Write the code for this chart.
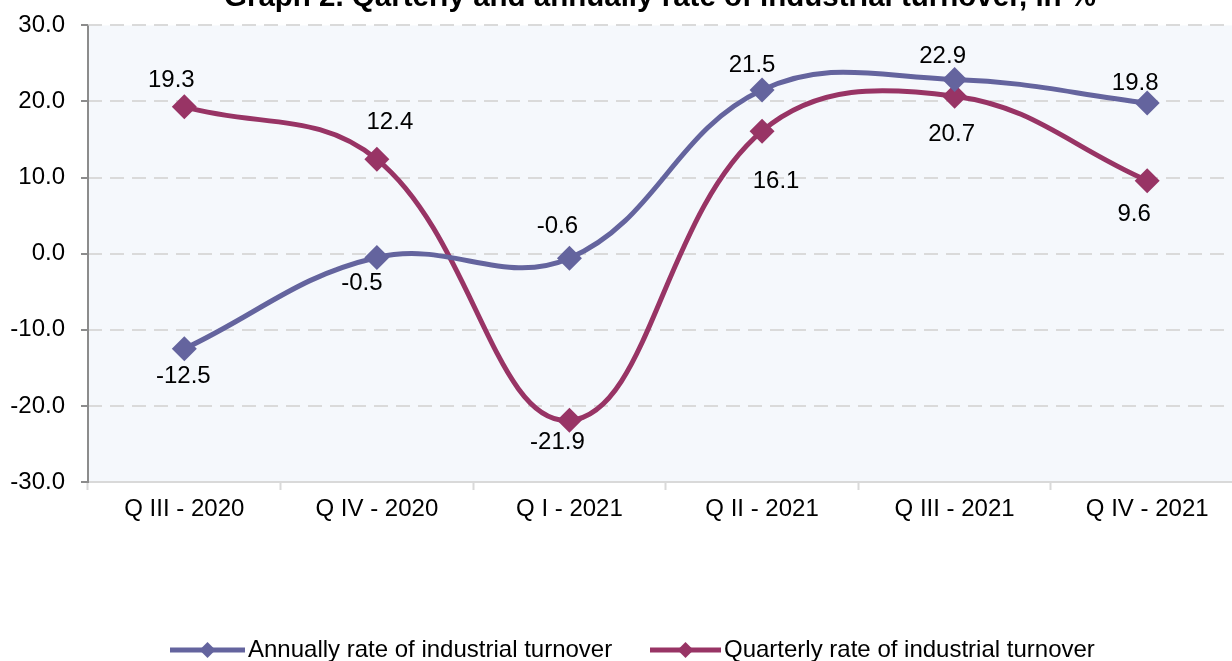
<!DOCTYPE html>
<html>
<head>
<meta charset="utf-8">
<script src="https://cdn.jsdelivr.net/npm/chart.js@4/dist/chart.umd.min.js"></script>
<style>
    html, body { margin: 0; padding: 0; background: #ffffff; overflow: hidden; }
    #wrap { position: relative; width: 1256px; height: 666px; top: -5px; }
</style>
</head>
<body>
<div id="wrap"><canvas id="lineChart" width="1256" height="666"></canvas></div>
<script>
// 横坐标
var categories = ["Q III - 2020", "Q IV - 2020", "Q I - 2021", "Q II - 2021", "Q III - 2021", "Q IV - 2021"];
// 纵坐标
var annualValues = [-12.5, -0.5, -0.6, 21.5, 22.9, 19.8];
var quarterlyValues = [19.3, 12.4, -21.9, 16.1, 20.7, 9.6];
// 刻度
var yTicks = [-30, -20, -10, 0, 10, 20, 30];

var titleText = "Graph 2. Qarterly and annually rate of industrial turnover, in %";
var annualLabel = "Annually rate of industrial turnover";
var quarterlyLabel = "Quarterly rate of industrial turnover";

var FONT = "'Liberation Sans', Arial, sans-serif";
var annualColor = "#64649e";
var quarterlyColor = "#983465";

// 数据标签偏移 [dx, dy]
var annualLabelOffsets = [[-1, 28], [-15, 26], [-12, -32], [-10, -25], [-12, -23], [-12, -20]];
var quarterlyLabelOffsets = [[-13, -26], [13, -37], [-12, 22], [14, 50], [-3, 38], [-13, 34]];

// 画布向上偏移了 5px（标题上半部分被裁掉）
var SHIFT = 5;

var Charts = window.Chart;
Charts.defaults.font.family = FONT;
Charts.defaults.color = '#000';

// 绘图区背景 + 左侧轴线
var plotBg = {
    id: 'plotBg',
    beforeDraw: function (chart) {
        var a = chart.chartArea, ctx = chart.ctx;
        ctx.save();
        ctx.fillStyle = '#f5f8fc';
        ctx.fillRect(a.left, a.top, a.right - a.left, a.bottom - a.top);
        ctx.restore();
    },
    afterDatasetsDraw: function (chart) {
        var a = chart.chartArea, ctx = chart.ctx;
        ctx.save();
        ctx.strokeStyle = '#8c8c8c';
        ctx.lineWidth = 2;
        ctx.beginPath();
        ctx.moveTo(a.left, a.top);
        ctx.lineTo(a.left, a.bottom + 1);
        ctx.stroke();
        ctx.restore();
    }
};

// 数据标签
var valueLabels = {
    id: 'valueLabels',
    afterDatasetsDraw: function (chart) {
        var ctx = chart.ctx;
        ctx.save();
        ctx.font = '24px ' + FONT;
        ctx.fillStyle = '#000';
        ctx.textAlign = 'center';
        ctx.textBaseline = 'middle';
        chart.data.datasets.forEach(function (ds, i) {
            var meta = chart.getDatasetMeta(i);
            meta.data.forEach(function (pt, j) {
                var off = ds.labelOffsets[j];
                ctx.fillText(ds.data[j].toFixed(1), pt.x + off[0], pt.y + off[1]);
            });
        });
        ctx.restore();
    }
};

// 标题（上半部分被裁掉）和图例
var titleLegend = {
    id: 'titleLegend',
    afterDraw: function (chart) {
        var ctx = chart.ctx;
        ctx.save();
        ctx.fillStyle = '#000';
        ctx.font = 'bold 29.5px ' + FONT;
        ctx.textAlign = 'center';
        ctx.textBaseline = 'alphabetic';
        ctx.fillText(titleText, 660, 6 + SHIFT);

        var items = [
            {label: annualLabel, color: annualColor, x0: 170, x1: 245},
            {label: quarterlyLabel, color: quarterlyColor, x0: 650, x1: 721}
        ];
        var y = 650 + SHIFT;
        items.forEach(function (it) {
            ctx.strokeStyle = it.color;
            ctx.lineWidth = 5;
            ctx.beginPath();
            ctx.moveTo(it.x0, y);
            ctx.lineTo(it.x1, y);
            ctx.stroke();
            var cx = (it.x0 + it.x1) / 2;
            ctx.fillStyle = it.color;
            ctx.beginPath();
            ctx.moveTo(cx, y - 8);
            ctx.lineTo(cx + 8, y);
            ctx.lineTo(cx, y + 8);
            ctx.lineTo(cx - 8, y);
            ctx.closePath();
            ctx.fill();
            ctx.fillStyle = '#000';
            ctx.font = '24px ' + FONT;
            ctx.textAlign = 'left';
            ctx.textBaseline = 'middle';
            ctx.fillText(it.label, it.x1 + 3, y);
        });
        ctx.restore();
    }
};

function seriesStyle(color) {
    return {
        borderColor: color,
        backgroundColor: color,
        borderWidth: 5,
        tension: 0.4,
        fill: false,
        pointStyle: 'rectRot',
        pointRadius: 12.5,
        pointBorderWidth: 0,
        pointBackgroundColor: color
    };
}

var lineCtx = document.getElementById('lineChart');
var lineChart = new Charts(lineCtx, {
    type: 'line',
    data: {
        labels: categories,
        datasets: [
            Object.assign({label: annualLabel, data: annualValues, labelOffsets: annualLabelOffsets}, seriesStyle(annualColor)),
            Object.assign({label: quarterlyLabel, data: quarterlyValues, labelOffsets: quarterlyLabelOffsets}, seriesStyle(quarterlyColor))
        ]
    },
    options: {
        responsive: false,
        animation: false,
        layout: {padding: {top: 19, right: 7, left: 0, bottom: 129}},
        plugins: {
            legend: {display: false},
            title: {display: false},
            tooltip: {enabled: false}
        },
        scales: {
            x: {
                offset: true,
                afterFit: function (scale) { scale.height = 50; },
                grid: {
                    offset: true,
                    drawOnChartArea: false,
                    drawTicks: true,
                    tickLength: 8,
                    tickColor: '#d9d9d9',
                    tickWidth: 2
                },
                border: {display: true, color: '#d9d9d9', width: 2},
                ticks: {font: {size: 24}, color: '#000', padding: 5, maxRotation: 0}
            },
            y: {
                min: yTicks[0],
                max: yTicks[yTicks.length - 1],
                afterFit: function (scale) { scale.width = 88; },
                afterBuildTicks: function (scale) {
                    scale.ticks = yTicks.map(function (v) { return {value: v}; });
                },
                grid: {
                    color: '#dadada',
                    lineWidth: 2,
                    drawTicks: true,
                    tickLength: 7,
                    tickColor: '#8c8c8c',
                    tickWidth: 2,
                    tickBorderDash: []
                },
                border: {display: false, dash: [14, 8]},
                ticks: {
                    font: {size: 24},
                    color: '#000',
                    padding: 16,
                    callback: function (v) { return Number(v).toFixed(1); }
                }
            }
        }
    },
    plugins: [plotBg, valueLabels, titleLegend]
});
</script>
</body>
</html>
